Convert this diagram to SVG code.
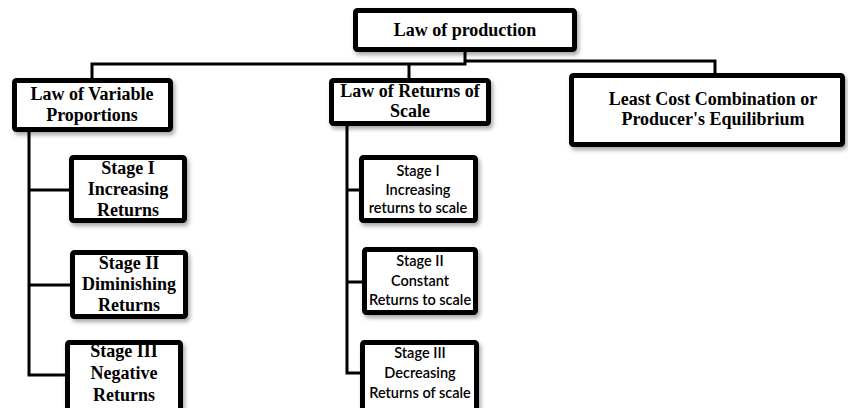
<svg xmlns="http://www.w3.org/2000/svg" width="848" height="408" viewBox="0 0 848 408">
<defs>
<filter id="sh" x="-10%" y="-10%" width="125%" height="140%">
<feDropShadow dx="2" dy="3" stdDeviation="2" flood-color="#000" flood-opacity="0.35"/>
</filter>
</defs>
<style>
.box{fill:#fff;stroke:#000;stroke-width:5;filter:url(#sh)}
.ser{font-family:"Liberation Serif","Times New Roman",serif;font-weight:bold;font-size:18px;fill:#000;text-anchor:middle}
.san{font-family:Lato,"Open Sans",sans-serif;font-weight:600;font-size:14.5px;fill:#000;text-anchor:middle}
.con{fill:none;stroke:#000;stroke-width:3}
</style>
<g id="connectors">
<path class="con" d="M465,52 V64 H92 V78"/>
<path class="con" d="M465,61 H715 V73"/>
<path class="con" d="M409,64 V78"/>
<path class="con" d="M29,132 V375 H65 M29,190 H69 M29,285 H70"/>
<path class="con" d="M347,126 V373 H360 M347,190 H359 M347,282 H362"/>
</g>
<g id="law-of-production">
<rect class="box" x="355.5" y="10.5" width="219" height="39" rx="2"/>
<text class="ser" x="465" y="36">Law of production</text>
</g>
<g id="law-of-variable-proportions">
<rect class="box" x="14.5" y="80.5" width="156" height="49" rx="2"/>
<text class="ser" x="92" y="100">Law of Variable</text>
<text class="ser" x="92" y="121">Proportions</text>
</g>
<g id="law-of-returns-of-scale">
<rect class="box" x="331.5" y="80.5" width="157" height="43" rx="2"/>
<text class="ser" x="410" y="97">Law of Returns of</text>
<text class="ser" x="410" y="117">Scale</text>
</g>
<g id="least-cost-combination">
<rect class="box" x="571.5" y="75.5" width="271" height="69" rx="2"/>
<text class="ser" x="713" y="105">Least Cost Combination or</text>
<text class="ser" x="713" y="125">Producer's Equilibrium</text>
</g>
<g id="stage1-left">
<rect class="box" x="71.5" y="157.5" width="113" height="63" rx="2"/>
<text class="ser" x="128" y="174">Stage I</text>
<text class="ser" x="128" y="195">Increasing</text>
<text class="ser" x="128" y="216">Returns</text>
</g>
<g id="stage2-left">
<rect class="box" x="72.5" y="252.5" width="113" height="64" rx="2"/>
<text class="ser" x="129" y="269">Stage II</text>
<text class="ser" x="129" y="290">Diminishing</text>
<text class="ser" x="129" y="311">Returns</text>
</g>
<g id="stage3-left">
<rect class="box" x="67.5" y="342.5" width="113" height="70" rx="2"/>
<text class="ser" x="124" y="357">Stage III</text>
<text class="ser" x="124" y="379">Negative</text>
<text class="ser" x="124" y="401">Returns</text>
</g>
<g id="stage1-mid">
<rect class="box" x="361.5" y="157.5" width="114" height="63" rx="2"/>
<text class="san" x="418" y="176">Stage I</text>
<text class="san" x="418" y="195">Increasing</text>
<text class="san" x="418" y="213">returns to scale</text>
</g>
<g id="stage2-mid">
<rect class="box" x="364.5" y="249.5" width="111" height="63" rx="2"/>
<text class="san" x="420" y="266">Stage II</text>
<text class="san" x="420" y="286">Constant</text>
<text class="san" x="420" y="305">Returns to scale</text>
</g>
<g id="stage3-mid">
<rect class="box" x="362.5" y="342.5" width="114" height="70" rx="2"/>
<text class="san" x="420" y="358">Stage III</text>
<text class="san" x="420" y="378">Decreasing</text>
<text class="san" x="420" y="398">Returns of scale</text>
</g>
</svg>
